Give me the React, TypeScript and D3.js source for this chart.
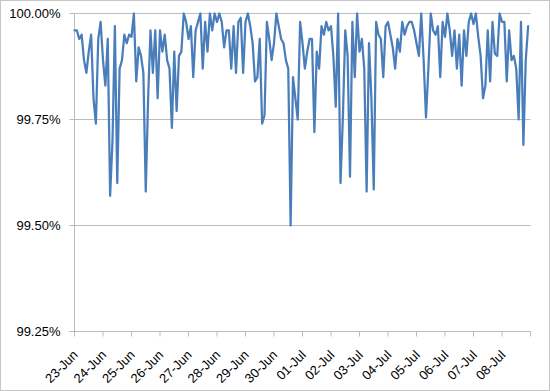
import { useEffect, useRef } from 'react';
import * as d3 from 'd3';

// availability readings, one every 2 hours starting 23-Jun 00:00
const startDate = new Date(2013, 5, 23);
const endDate = new Date(2013, 6, 9);
const stepHours = 2;

const availability = [
  // 23-Jun .. 25-Jun
  99.96, 99.96, 99.94, 99.95, 99.89, 99.86, 99.91, 99.95, 99.8, 99.74, 99.94, 99.98, 99.89, 99.83, 99.94, 99.57,
  99.7, 99.97, 99.6, 99.87, 99.89, 99.95, 99.93, 99.95, 99.945, 100.0, 99.84, 99.92, 99.9, 99.86, 99.58, 99.8,
  // 25-Jun .. 28-Jun
  99.96, 99.86, 99.96, 99.8, 99.96, 99.91, 99.95, 99.89, 99.87, 99.73, 99.91, 99.77, 99.9, 99.91, 100.0, 99.98,
  99.94, 99.97, 99.85, 99.96, 99.98, 100.0, 99.87, 99.98, 99.91, 100.0, 99.96, 100.0, 99.98, 100.0, 99.98, 99.92,
  // 28-Jun .. 01-Jul
  99.96, 99.96, 99.87, 99.97, 99.86, 99.98, 99.99, 99.86, 99.98, 100.0, 99.97, 99.93, 99.84, 99.85, 99.94, 99.74,
  99.76, 99.98, 99.94, 99.89, 99.93, 100.0, 99.97, 99.94, 99.93, 99.89, 99.87, 99.5, 99.85, 99.8, 99.75, 99.98,
  // 01-Jul .. 03-Jul
  99.93, 99.87, 99.91, 99.94, 99.94, 99.72, 99.91, 99.87, 99.97, 99.95, 99.98, 99.96, 99.97, 99.9, 99.78, 100.0,
  99.6, 99.755, 99.96, 99.9, 99.615, 99.98, 99.85, 100.0, 99.91, 99.94, 99.87, 99.58, 99.93, 99.8, 99.585, 99.98,
  // 04-Jul .. 06-Jul
  99.95, 99.94, 99.85, 99.97, 99.98, 99.95, 99.92, 99.87, 99.94, 99.91, 99.98, 99.95, 99.97, 99.98, 99.98, 99.96,
  99.93, 99.9, 100.0, 99.89, 99.755, 99.87, 100.0, 99.96, 99.95, 99.97, 99.85, 99.98, 99.945, 100.0, 99.96, 99.9,
  // 06-Jul .. 08-Jul
  99.96, 99.87, 99.95, 99.83, 99.96, 99.9, 99.98, 100.0, 99.975, 100.0, 99.945, 99.9, 99.8, 99.83, 99.96, 99.84,
  99.98, 99.905, 99.9, 100.0, 99.98, 99.98, 99.84, 99.96, 99.89, 99.9, 99.87, 99.75, 99.98, 99.69, 99.89, 99.97,
];

const yTicks = [99.25, 99.5, 99.75, 100];

export default function App() {
  const svgRef = useRef<SVGSVGElement>(null);
  const width = 550;
  const height = 391;

  useEffect(() => {
    if (!svgRef.current) return;
    const margin = { top: 13.5, right: 19.5, bottom: 59.5, left: 74.5 };
    const innerWidth = width - margin.left - margin.right;
    const innerHeight = height - margin.top - margin.bottom;

    const svg = d3.select(svgRef.current);
    svg.selectAll('*').remove();

    svg
      .append('rect')
      .attr('x', 0.5)
      .attr('y', 0.5)
      .attr('width', width - 1)
      .attr('height', height - 1)
      .attr('fill', '#fff')
      .attr('stroke', '#c6c6c6');

    const data = availability.map((v, i) => ({
      t: d3.timeHour.offset(startDate, i * stepHours),
      v,
    }));

    const x = d3.scaleTime().domain([startDate, endDate]).range([0, innerWidth]);
    const y = d3.scaleLinear().domain([99.25, 100]).range([innerHeight, 0]);

    const g = svg.append('g').attr('transform', `translate(${margin.left},${margin.top})`);

    // gridlines, running 5px past the axis as tick marks
    g.selectAll('line.grid')
      .data(yTicks)
      .enter()
      .append('line')
      .attr('class', 'grid')
      .attr('x1', -5)
      .attr('x2', innerWidth)
      .attr('y1', (d) => Math.round(y(d)))
      .attr('y2', (d) => Math.round(y(d)))
      .attr('stroke', '#bcbcbc')
      .attr('stroke-width', 1);

    // Y labels
    g.selectAll('text.ylab')
      .data(yTicks)
      .enter()
      .append('text')
      .attr('class', 'ylab')
      .attr('x', -14)
      .attr('y', (d) => y(d))
      .attr('dy', '0.35em')
      .attr('text-anchor', 'end')
      .attr('font-family', 'Liberation Sans, Arial, sans-serif')
      .attr('font-size', 13)
      .attr('fill', '#000')
      .text((d) => d3.format('.2f')(d) + '%');

    // Y axis line
    g.append('line')
      .attr('x1', 0)
      .attr('x2', 0)
      .attr('y1', 0)
      .attr('y2', innerHeight)
      .attr('stroke', '#bcbcbc');

    // X axis
    const days = d3.timeDay.range(startDate, d3.timeDay.offset(endDate, 1));
    g.append('line')
      .attr('x1', -5)
      .attr('x2', innerWidth)
      .attr('y1', innerHeight)
      .attr('y2', innerHeight)
      .attr('stroke', '#bcbcbc');

    g.selectAll('line.xtick')
      .data(days)
      .enter()
      .append('line')
      .attr('class', 'xtick')
      .attr('x1', (d) => x(d))
      .attr('x2', (d) => x(d))
      .attr('y1', innerHeight)
      .attr('y2', innerHeight + 5)
      .attr('stroke', '#bcbcbc');

    const fmt = d3.timeFormat('%d-%b');
    g.selectAll('text.xlab')
      .data(days.slice(0, -1))
      .enter()
      .append('text')
      .attr('class', 'xlab')
      .attr('transform', (d) => `translate(${x(d) + 1},${innerHeight + 21}) rotate(-45)`)
      .attr('text-anchor', 'end')
      .attr('dy', '0.35em')
      .attr('font-family', 'Liberation Sans, Arial, sans-serif')
      .attr('font-size', 13)
      .attr('fill', '#000')
      .text((d) => fmt(d));

    const line = d3
      .line<{ t: Date; v: number }>()
      .x((d) => x(d.t))
      .y((d) => y(d.v));

    g.append('path')
      .datum(data)
      .attr('d', line)
      .attr('fill', 'none')
      .attr('stroke', '#4a7ebb')
      .attr('stroke-width', 2.25)
      .attr('stroke-linejoin', 'round')
      .attr('stroke-linecap', 'round');
  }, []);

  return (
    <svg
      ref={svgRef}
      width={width}
      height={height}
      style={{ position: 'absolute', left: 0, top: 0 }}
    />
  );
}
